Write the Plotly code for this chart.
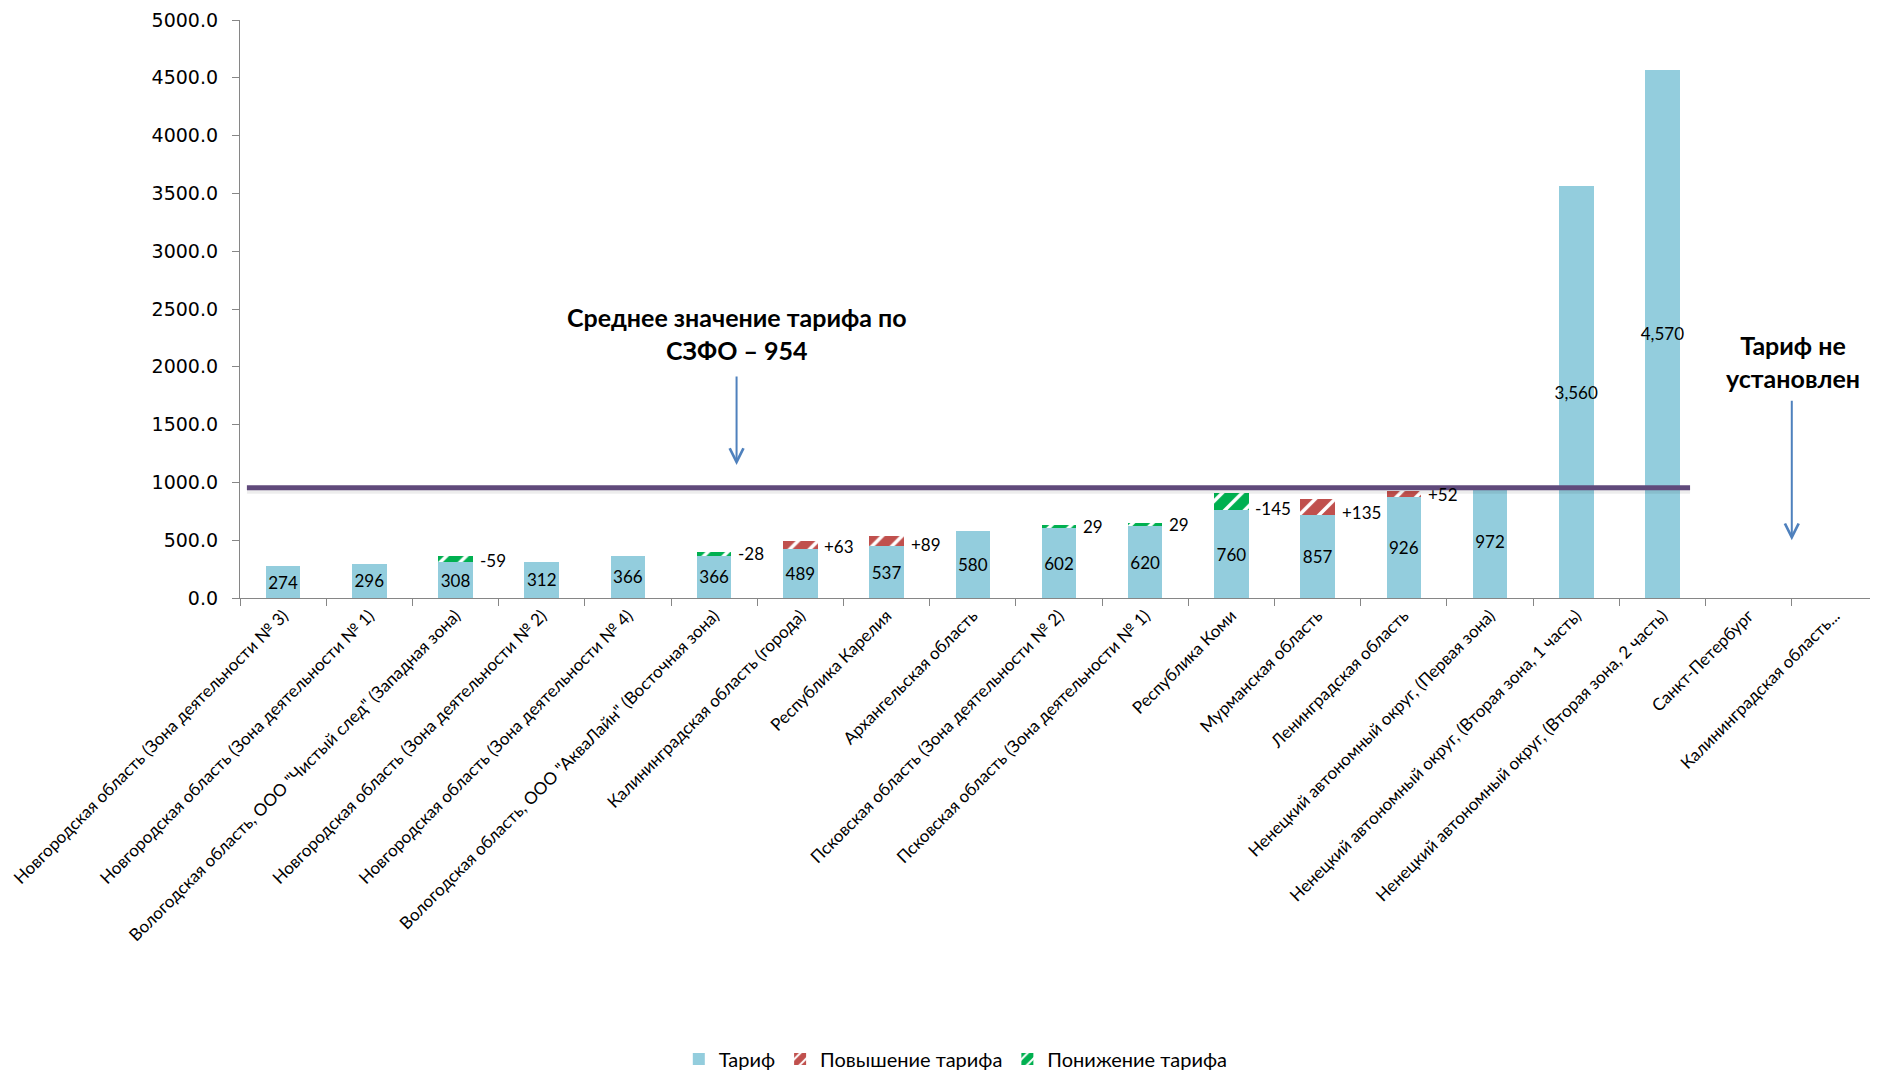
import plotly.graph_objects as go

categories = [
    "Новгородская область (Зона деятельности № 3)",
    "Новгородская область (Зона деятельности № 1)",
    "Вологодская область, ООО \"Чистый след\" (Западная зона)",
    "Новгородская область (Зона деятельности № 2)",
    "Новгородская область (Зона деятельности № 4)",
    "Вологодская область, ООО \"АкваЛайн\" (Восточная зона)",
    "Калининградская область (города)",
    "Республика Карелия",
    "Архангельская область",
    "Псковская область (Зона деятельности № 2)",
    "Псковская область (Зона деятельности № 1)",
    "Республика Коми",
    "Мурманская область",
    "Ленинградская область",
    "Ненецкий автономный округ, (Первая зона)",
    "Ненецкий автономный округ, (Вторая зона, 1 часть)",
    "Ненецкий автономный округ, (Вторая зона, 2 часть)",
    "Санкт-Петербург",
    "Калининградская область...",
]
tariff = [274, 296, 308, 312, 366, 366, 489, 537, 580, 602, 620, 760, 857, 926, 972, 3560, 4570, None, None]
change = [0, 0, -59, 0, 0, -28, 63, 89, 0, -29, -29, -145, 135, 52, 0, 0, 0, None, None]
change_labels = ["", "", "-59", "", "", "-28", "+63", "+89", "", "29", "29", "-145", "+135", "+52", "", "", "", "", ""]
average_tariff = 954
y_ticks = [0, 500, 1000, 1500, 2000, 2500, 3000, 3500, 4000, 4500, 5000]

base = [None if t is None else t - max(c, 0) for t, c in zip(tariff, change)]
increase = [c if (c is not None and c > 0) else None for c in change]
decrease = [-c if (c is not None and c < 0) else None for c in change]
bar_text = ["" if t is None else (f"{t:,}" if t >= 1000 else str(t)) for t in tariff]

BAR_W = 0.4
fig = go.Figure()
fig.add_trace(go.Bar(
    x=categories, y=base, name="Тариф", width=BAR_W,
    marker=dict(color="#93CDDD", line=dict(width=0)),
    text=bar_text, textposition="inside", insidetextanchor="middle",
    textangle=0, constraintext="none",
    textfont=dict(family="Lato", size=17, color="black"),
))
fig.add_trace(go.Bar(
    x=categories, y=increase, name="Повышение тарифа", width=BAR_W,
    marker=dict(color="#C0504D", line=dict(width=0),
                pattern=dict(shape="/", fgcolor="#C0504D", bgcolor="white",
                             fgopacity=1, size=14, solidity=0.75)),
))
fig.add_trace(go.Bar(
    x=categories, y=decrease, name="Понижение тарифа", width=BAR_W,
    marker=dict(color="#00B050", line=dict(width=0),
                pattern=dict(shape="/", fgcolor="#00B050", bgcolor="white",
                             fgopacity=1, size=14, solidity=0.75)),
))

annotations = []
for cat, b, lbl in zip(categories, base, change_labels):
    if lbl:
        annotations.append(dict(
            x=cat, y=b, xref="x", yref="y", text=lbl, showarrow=False,
            xanchor="left", yanchor="middle", xshift=22, yshift=2,
            font=dict(family="Lato", size=17, color="black"),
        ))

# Average label and arrow
annotations.append(dict(
    x=5.27, y=2290, xref="x", yref="y",
    text=f"<b>Среднее значение тарифа по<br>СЗФО – {average_tariff}</b>",
    showarrow=False, xanchor="center", yanchor="middle",
    font=dict(family="Lato", size=25, color="black"),
))
annotations.append(dict(
    x=5.26, y=1150, ax=5.26, ay=1930, xref="x", yref="y", axref="x", ayref="y",
    text="", showarrow=True, arrowhead=5, arrowsize=1.35, arrowwidth=2,
    arrowcolor="#4F81BD",
))
annotations.append(dict(
    x=17.51, y=2050, xref="x", yref="y",
    text="<b>Тариф не<br>установлен</b>",
    showarrow=False, xanchor="center", yanchor="middle",
    font=dict(family="Lato", size=25, color="black"),
))
annotations.append(dict(
    x=17.5, y=500, ax=17.5, ay=1720, xref="x", yref="y", axref="x", ayref="y",
    text="", showarrow=True, arrowhead=5, arrowsize=1.35, arrowwidth=2,
    arrowcolor="#4F81BD",
))
# slide number (cut off at bottom, as in the source slide)
annotations.append(dict(
    x=0.968, y=-0.812, xref="paper", yref="paper", text="30", showarrow=False,
    xanchor="center", yanchor="top", font=dict(family="Lato", size=30, color="#8C8C8C"),
))

shapes = [
    dict(type="line", xref="x", yref="y", x0=-0.42, x1=16.32,
         yanchor=average_tariff, ysizemode="pixel", y0=-3, y1=-3,
         line=dict(color="rgba(0,0,0,0.07)", width=6)),
    dict(type="line", xref="x", yref="y", x0=-0.42, x1=16.32,
         y0=average_tariff, y1=average_tariff,
         line=dict(color="#604A7B", width=5)),
]

# page body has an 8px default margin, so the figure is sized to fit the window
fig.update_layout(
    width=1870, height=1063,
    margin=dict(l=232, r=0, t=12, b=473),
    paper_bgcolor="white", plot_bgcolor="white",
    barmode="stack", bargap=0.6,
    showlegend=True,
    legend=dict(orientation="h", x=0.437, xanchor="center",
                yref="container", y=0.0113, yanchor="middle",
                font=dict(family="Lato", size=20, color="black"),
                itemwidth=30, tracegroupgap=0, traceorder="normal"),
    uniformtext=dict(minsize=17, mode="show"),
    annotations=annotations, shapes=shapes,
    font=dict(family="Lato", color="black"),
)
fig.update_xaxes(
    type="category", tickangle=-45, tickson="boundaries",
    ticks="outside", ticklen=7, tickcolor="#868686",
    showline=True, linecolor="#868686", linewidth=1.3,
    showgrid=False, tickfont=dict(family="Lato", size=17, color="black"),
    range=[-0.5, 18.5], automargin=False,
)
fig.update_yaxes(
    range=[0, 5000], tickvals=y_ticks, tickformat=".1f",
    ticks="outside", ticklen=7, tickcolor="#868686",
    showline=True, linecolor="#868686", linewidth=1.3,
    showgrid=False, zeroline=False, ticklabelstandoff=10,
    tickfont=dict(family="DejaVu Sans", size=19, color="black"),
    automargin=False,
)

fig.write_html("out.html")
